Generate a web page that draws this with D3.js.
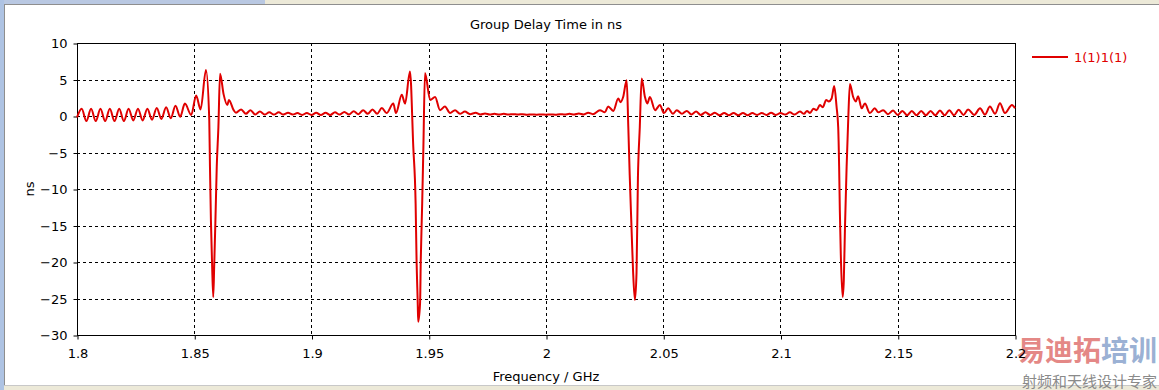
<!DOCTYPE html>
<html>
<head>
<meta charset="utf-8">
<script src="https://cdn.jsdelivr.net/npm/d3@7"></script>
<style>
  body { margin: 0; background: #fff; }
  svg { display: block; font-family: "DejaVu Sans", sans-serif; }
</style>
</head>
<body>
<svg id="chart" width="1159" height="390"></svg>
<script>
// Group delay trace (GHz, ns)
const freqGHz = [
  1.800, 1.802, 1.804, 1.806, 1.808, 1.810, 1.812, 1.814, 1.816, 1.818,
  1.820, 1.822, 1.824, 1.826, 1.828, 1.830, 1.832, 1.834, 1.836, 1.838,
  1.840, 1.842, 1.844, 1.846, 1.8487, 1.8508, 1.8527, 1.8550, 1.8564, 1.8567,
  1.8571, 1.8576, 1.8581, 1.8585, 1.8590, 1.8596, 1.8603, 1.8610, 1.8625, 1.8641,
  1.8648, 1.8668, 1.8678, 1.870, 1.872, 1.874, 1.876, 1.878, 1.880, 1.882,
  1.884, 1.886, 1.888, 1.890, 1.892, 1.894, 1.896, 1.898, 1.900, 1.902,
  1.904, 1.906, 1.908, 1.910, 1.912, 1.914, 1.916, 1.918, 1.920, 1.922,
  1.924, 1.926, 1.928, 1.930, 1.932, 1.9349, 1.9360, 1.9385, 1.9399, 1.9420,
  1.9434, 1.9444, 1.9448, 1.9453, 1.9455, 1.9463, 1.9466, 1.9472, 1.9477, 1.9484,
  1.9506, 1.9527, 1.9548, 1.9569, 1.9591, 1.9612, 1.9633, 1.9654, 1.9676, 1.970,
  1.972, 1.974, 1.976, 1.978, 1.980, 1.982, 1.984, 1.986, 1.988, 1.990,
  1.992, 1.994, 1.996, 1.998, 2.000, 2.002, 2.004, 2.006, 2.008, 2.010,
  2.012, 2.014, 2.016, 2.018, 2.020, 2.0230, 2.0251, 2.0265, 2.0287, 2.0308,
  2.0318, 2.0329, 2.0344, 2.0351, 2.0357, 2.0364, 2.0371, 2.0379, 2.0386, 2.0392,
  2.0400, 2.0408, 2.0422, 2.0432, 2.0443, 2.0465, 2.0486, 2.0503, 2.0521, 2.0541,
  2.0558, 2.058, 2.060, 2.062, 2.064, 2.066, 2.068, 2.070, 2.072, 2.074,
  2.076, 2.078, 2.080, 2.082, 2.084, 2.086, 2.088, 2.090, 2.092, 2.094,
  2.096, 2.098, 2.100, 2.102, 2.104, 2.106, 2.1083, 2.1100, 2.1113, 2.1126,
  2.1140, 2.1154, 2.1168, 2.1180, 2.1195, 2.1206, 2.1218, 2.1229, 2.1239, 2.1246,
  2.1250, 2.1253, 2.1257, 2.1265, 2.1270, 2.1275, 2.1282, 2.1289, 2.1296, 2.1310,
  2.1321, 2.1331, 2.1346, 2.1360, 2.1381, 2.1402, 2.1417, 2.1438, 2.1458, 2.148,
  2.150, 2.152, 2.154, 2.156, 2.158, 2.160, 2.162, 2.164, 2.166, 2.168,
  2.170, 2.172, 2.174, 2.176, 2.178, 2.180, 2.1826, 2.1851, 2.1872, 2.1893,
  2.1915, 2.1936, 2.1957, 2.1987, 2.2000
];
const delayNs = [
  -0.2, 1.0, -0.7, 1.0, -0.7, 1.0, -0.7, 1.0, -0.7, 1.0,
  -0.7, 1.0, -0.6, 1.0, -0.6, 1.0, -0.5, 1.1, -0.4, 1.2,
  -0.3, 1.4, -0.1, 1.7, 0.15, 2.8, 0.9, 6.3, -0.5, -6.9,
  -14.2, -20.2, -24.8, -20.6, -14.7, -6.9, -1.5, 5.8, 3.0, 1.5,
  2.2, 0.8, 0.45, 0.9, 0.3, 0.8, 0.2, 0.6, 0.2, 0.5,
  0.2, 0.5, 0.2, 0.45, 0.2, 0.4, 0.15, 0.4, 0.15, 0.45,
  0.15, 0.45, 0.15, 0.5, 0.2, 0.55, 0.2, 0.65, 0.25, 0.8,
  0.3, 0.9, 0.3, 1.1, 0.4, 1.7, 0.4, 2.9, 1.7, 6.1,
  -4.2, -12, -19.7, -25.6, -28.2, -25.6, -19.7, -12, -4.5, 5.9,
  2.2, 2.6, 0.8, 1.3, 0.4, 0.8, 0.3, 0.6, 0.25, 0.45,
  0.2, 0.35, 0.2, 0.3, 0.2, 0.3, 0.2, 0.25, 0.2, 0.25,
  0.18, 0.22, 0.18, 0.2, 0.18, 0.22, 0.18, 0.25, 0.2, 0.3,
  0.2, 0.35, 0.2, 0.45, 0.25, 0.8, 0.5, 1.3, 0.7, 2.4,
  1.9, 2.6, 4.9, -1.5, -8.1, -14.7, -21, -25.2, -21.5, -8.5,
  -1.5, 5.15, 2.6, 1.7, 2.6, 0.8, 1.5, 0.4, 1.05, 0.3,
  0.8, 0.3, 0.7, 0.2, 0.6, 0.15, 0.5, 0.15, 0.45, 0.1,
  0.4, 0.1, 0.4, 0.1, 0.4, 0.1, 0.4, 0.15, 0.4, 0.15,
  0.45, 0.15, 0.4, 0.2, 0.5, 0.2, 0.6, 0.3, 0.7, 0.4,
  1.0, 0.8, 1.5, 1.2, 2.2, 2.0, 2.4, 4.1, 1.3, -1.5,
  -6.9, -12.9, -18.8, -24.8, -22.5, -15.2, -6.9, -0.3, 4.4, 2.6,
  2.0, 2.7, 1.05, 1.7, 0.4, 1.05, 0.5, 0.8, 0.25, 0.75,
  0.15, 0.7, 0.1, 0.7, 0.1, 0.7, 0.1, 0.7, 0.1, 0.75,
  0.1, 0.8, 0.1, 0.85, 0.15, 0.9, 0.15, 1.05, 0.2, 1.3,
  0.3, 1.75, 0.4, 1.5, 1.05
];
const xTicks = [1.8, 1.85, 1.9, 1.95, 2, 2.05, 2.1, 2.15, 2.2];
const yTicks = [10, 5, 0, -5, -10, -15, -20, -25, -30];
const seriesName = "1(1)1(1)";

const svg = d3.select("#chart");
const width = 1159, height = 390;
const margin = { top: 43, right: 144, bottom: 55, left: 77 };
const lineColor = "#e00000";

// window frame bits
svg.append("rect").attr("x", 0).attr("y", 0).attr("width", width).attr("height", 4).attr("fill", "#ece9d8");
svg.append("rect").attr("x", 0).attr("y", 0).attr("width", 265).attr("height", 4).attr("fill", "#b9c8e2");
svg.append("rect").attr("x", 0).attr("y", 0).attr("width", 4).attr("height", height).attr("fill", "#aec3e3");
svg.append("line").attr("x1", 4).attr("x2", width).attr("y1", 4.5).attr("y2", 4.5).attr("stroke", "#8e8e8e");
svg.append("line").attr("x1", 4.5).attr("x2", 4.5).attr("y1", 4).attr("y2", 386).attr("stroke", "#8e8e8e");
svg.append("rect").attr("x", 4).attr("y", 386).attr("width", width).attr("height", 4).attr("fill", "#ece9d8");
svg.append("line").attr("x1", 4).attr("x2", width).attr("y1", 385.5).attr("y2", 385.5).attr("stroke", "#c8c8c8");

// watermark (under the axis labels, as in the picture)
const wm = svg.append("text")
  .attr("x", 1157)
  .attr("y", 361)
  .attr("text-anchor", "end")
  .attr("font-family", "Noto Sans CJK SC")
  .attr("font-weight", "bold")
  .attr("font-size", 28);
wm.append("tspan").attr("fill", "#d9534f").attr("fill-opacity", 0.7).text("易迪拓");
wm.append("tspan").attr("fill", "#7f9cc8").attr("fill-opacity", 0.8).text("培训");
svg.append("text")
  .attr("x", 1157)
  .attr("y", 387)
  .attr("text-anchor", "end")
  .attr("font-family", "Noto Sans CJK SC")
  .attr("font-size", 15)
  .attr("fill", "#8a8a8a")
  .text("射频和天线设计专家");

// scales
const x = d3.scaleLinear()
  .domain([1.8, 2.2])
  .range([margin.left, width - margin.right]);
const y = d3.scaleLinear()
  .domain([-30, 10])
  .range([height - margin.bottom, margin.top]);

// dashed grid
svg.append("g")
  .selectAll("line")
  .data(xTicks.slice(1, -1))
  .join("line")
    .attr("x1", d => Math.round(x(d)) + 0.5)
    .attr("x2", d => Math.round(x(d)) + 0.5)
    .attr("y1", y(10))
    .attr("y2", y(-30))
    .attr("stroke", "#000")
    .attr("stroke-dasharray", "3,3");
svg.append("g")
  .selectAll("line")
  .data(yTicks.slice(1, -1))
  .join("line")
    .attr("x1", x(1.8))
    .attr("x2", x(2.2))
    .attr("y1", d => Math.round(y(d)) + 0.5)
    .attr("y2", d => Math.round(y(d)) + 0.5)
    .attr("stroke", "#000")
    .attr("stroke-dasharray", "3,3");

// x axis
const xAxis = svg.append("g")
  .attr("transform", `translate(0.5,${Math.round(y(-30)) + 0.5})`)
  .call(d3.axisBottom(x).tickValues(xTicks).tickFormat(d3.format("")).tickSizeInner(4).tickSizeOuter(0).tickPadding(9));
xAxis.select(".domain").remove();

// y axis
const yAxis = svg.append("g")
  .attr("transform", `translate(${Math.round(x(1.8)) + 0.5},0.5)`)
  .call(d3.axisLeft(y).tickValues(yTicks).tickSizeInner(4).tickSizeOuter(0).tickPadding(6));
yAxis.select(".domain").remove();

svg.selectAll(".tick text")
  .attr("font-family", "DejaVu Sans, sans-serif")
  .attr("font-size", 13)
  .attr("fill", "#000");
svg.selectAll(".tick line").attr("stroke", "#000");

// plot frame
svg.append("rect")
  .attr("x", Math.round(x(1.8)) + 0.5)
  .attr("y", Math.round(y(10)) + 0.5)
  .attr("width", Math.round(x(2.2)) - Math.round(x(1.8)))
  .attr("height", Math.round(y(-30)) - Math.round(y(10)))
  .attr("fill", "none")
  .attr("stroke", "#000");

// trace
const line = d3.line()
  .x(d => x(d[0]))
  .y(d => y(d[1]))
  .curve(d3.curveMonotoneX);
svg.append("path")
  .datum(d3.zip(freqGHz, delayNs))
  .attr("fill", "none")
  .attr("stroke", lineColor)
  .attr("stroke-width", 2)
  .attr("stroke-linejoin", "round")
  .attr("d", line);

// titles
svg.append("text")
  .attr("x", (x(1.8) + x(2.2)) / 2)
  .attr("y", 29)
  .attr("text-anchor", "middle")
  .attr("font-size", 13)
  .text("Group Delay Time in ns");
svg.append("text")
  .attr("x", (x(1.8) + x(2.2)) / 2)
  .attr("y", 381)
  .attr("text-anchor", "middle")
  .attr("font-size", 13)
  .text("Frequency / GHz");
svg.append("text")
  .attr("transform", `translate(34,${(y(10) + y(-30)) / 2}) rotate(-90)`)
  .attr("text-anchor", "middle")
  .attr("font-size", 13)
  .text("ns");

// legend
svg.append("line")
  .attr("x1", 1032).attr("x2", 1068)
  .attr("y1", 57).attr("y2", 57)
  .attr("stroke", lineColor)
  .attr("stroke-width", 2);
svg.append("text")
  .attr("x", 1074)
  .attr("y", 62)
  .attr("font-size", 13)
  .attr("fill", lineColor)
  .text(seriesName);
</script>
</body>
</html>
